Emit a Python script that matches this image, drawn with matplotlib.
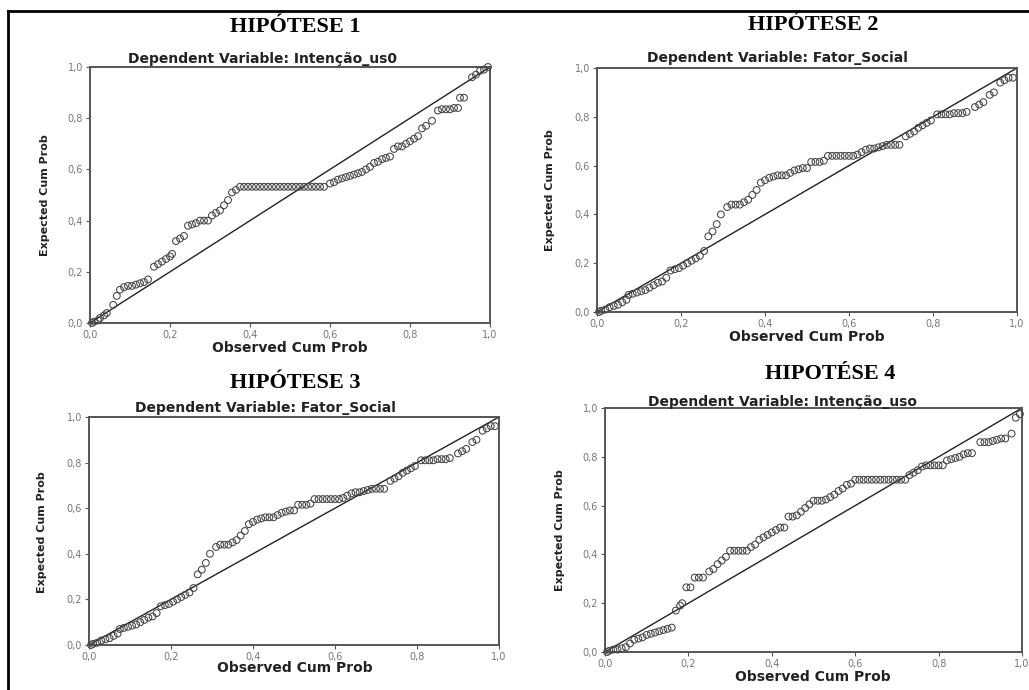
import matplotlib
matplotlib.use("Agg")
import matplotlib.pyplot as plt
from matplotlib.lines import Line2D
from matplotlib.ticker import FuncFormatter

# ---------------- data ----------------
titles = ["HIPÓTESE 1", "HIPÓTESE 2", "HIPÓTESE 3", "HIPOTÉSE 4"]
subtitles = ["Dependent Variable: Intenção_us0",
             "Dependent Variable: Fator_Social",
             "Dependent Variable: Fator_Social",
             "Dependent Variable: Intenção_uso"]
x_label = "Observed Cum Prob"
y_label = "Expected Cum Prob"
tick_values = [0.0, 0.2, 0.4, 0.6, 0.8, 1.0]

h1_obs = [0.005, 0.01, 0.02, 0.025, 0.035, 0.042, 0.058, 0.067,
          0.075, 0.085, 0.095, 0.105, 0.115, 0.125, 0.135, 0.145,
          0.16, 0.17, 0.18, 0.19, 0.20, 0.205, 0.215, 0.225, 0.235,
          0.245, 0.255, 0.265, 0.275, 0.285, 0.295, 0.305, 0.315, 0.325, 0.335, 0.345,
          0.355, 0.365,
          0.375, 0.385, 0.395, 0.405, 0.415, 0.425, 0.435, 0.445, 0.455, 0.465,
          0.475, 0.485, 0.495, 0.505, 0.515, 0.525, 0.535, 0.545, 0.555, 0.565,
          0.575, 0.585,
          0.60, 0.61, 0.62, 0.63, 0.64, 0.65, 0.66, 0.67, 0.68, 0.69, 0.70,
          0.71, 0.72, 0.73, 0.74, 0.75, 0.76, 0.77, 0.78, 0.79, 0.80, 0.81, 0.82,
          0.83, 0.84, 0.855, 0.87, 0.88, 0.89, 0.90, 0.91, 0.92, 0.925, 0.935,
          0.955, 0.965, 0.975, 0.985, 0.995]
h1_exp = [0.0, 0.005, 0.01, 0.02, 0.03, 0.039, 0.071, 0.106,
          0.13, 0.14, 0.145, 0.145, 0.15, 0.155, 0.16, 0.17,
          0.22, 0.23, 0.24, 0.25, 0.26, 0.27, 0.32, 0.33, 0.34,
          0.38, 0.385, 0.39, 0.40, 0.40, 0.40, 0.42, 0.43, 0.44, 0.46, 0.48,
          0.51, 0.52,
          0.532, 0.532, 0.532, 0.532, 0.532, 0.532, 0.532, 0.532, 0.532, 0.532,
          0.532, 0.532, 0.532, 0.532, 0.532, 0.532, 0.532, 0.532, 0.532, 0.532,
          0.532, 0.532,
          0.545, 0.55, 0.56, 0.565, 0.57, 0.575, 0.58, 0.585, 0.59, 0.60, 0.61,
          0.625, 0.63, 0.64, 0.645, 0.65, 0.68, 0.69, 0.69, 0.70, 0.71, 0.72, 0.73,
          0.76, 0.77, 0.79, 0.83, 0.835, 0.835, 0.835, 0.84, 0.84, 0.88, 0.88,
          0.96, 0.97, 0.985, 0.99, 1.0]

social_obs = [0.005, 0.01, 0.02, 0.03, 0.04, 0.05, 0.06, 0.07,
              0.075, 0.085, 0.095, 0.105, 0.115, 0.125, 0.135, 0.145, 0.155, 0.165,
              0.175, 0.185, 0.195, 0.205, 0.215, 0.225, 0.235, 0.245, 0.255,
              0.265, 0.275, 0.285, 0.295,
              0.31, 0.32, 0.33, 0.34, 0.35, 0.36, 0.37, 0.38,
              0.39, 0.40, 0.41, 0.42, 0.43, 0.44, 0.45, 0.46, 0.47, 0.48, 0.49, 0.50,
              0.51, 0.52, 0.53, 0.54,
              0.55, 0.56, 0.57, 0.58, 0.59, 0.60, 0.61, 0.62,
              0.63, 0.64, 0.65, 0.66, 0.67, 0.68, 0.69, 0.70, 0.71, 0.72,
              0.735, 0.745, 0.755, 0.765, 0.775, 0.785, 0.795,
              0.81, 0.82, 0.83, 0.84, 0.85, 0.86, 0.87, 0.88,
              0.90, 0.91, 0.92, 0.935, 0.945, 0.96, 0.97, 0.98, 0.99]
social_exp = [0.0, 0.005, 0.01, 0.02, 0.025, 0.03, 0.04, 0.05,
              0.07, 0.075, 0.08, 0.085, 0.09, 0.10, 0.11, 0.12, 0.125, 0.14,
              0.17, 0.175, 0.18, 0.19, 0.20, 0.21, 0.22, 0.23, 0.25,
              0.31, 0.33, 0.36, 0.40,
              0.43, 0.44, 0.44, 0.44, 0.45, 0.46, 0.48, 0.50,
              0.53, 0.54, 0.55, 0.555, 0.56, 0.56, 0.56, 0.57, 0.58, 0.585, 0.59, 0.59,
              0.615, 0.615, 0.615, 0.62,
              0.64, 0.64, 0.64, 0.64, 0.64, 0.64, 0.64, 0.645,
              0.655, 0.665, 0.67, 0.67, 0.675, 0.68, 0.685, 0.685, 0.685, 0.685,
              0.72, 0.73, 0.74, 0.755, 0.765, 0.775, 0.785,
              0.81, 0.81, 0.81, 0.81, 0.815, 0.815, 0.815, 0.82,
              0.84, 0.85, 0.86, 0.89, 0.90, 0.94, 0.95, 0.96, 0.96]

h4_obs = [0.005, 0.01, 0.02, 0.03, 0.04, 0.05, 0.06, 0.07, 0.08, 0.09,
          0.10, 0.11, 0.12, 0.13, 0.14, 0.15, 0.16,
          0.17, 0.18, 0.185, 0.195, 0.205, 0.215, 0.225, 0.235,
          0.25, 0.26, 0.27, 0.28, 0.29,
          0.30, 0.31, 0.32, 0.33, 0.34,
          0.35, 0.36, 0.37, 0.38, 0.39, 0.40, 0.41, 0.42, 0.43,
          0.44, 0.45, 0.46, 0.47, 0.48, 0.49,
          0.50, 0.51, 0.52, 0.53,
          0.54, 0.55, 0.56, 0.57, 0.58, 0.59,
          0.60, 0.61, 0.62, 0.63, 0.64, 0.65, 0.66, 0.67, 0.68, 0.69, 0.70, 0.71, 0.72,
          0.73, 0.74, 0.75, 0.76,
          0.77, 0.78, 0.79, 0.80, 0.81,
          0.82, 0.83, 0.84, 0.85, 0.86, 0.87, 0.88,
          0.90, 0.91, 0.92, 0.93, 0.94, 0.95, 0.96,
          0.975, 0.985, 0.995]
h4_exp = [0.0, 0.005, 0.01, 0.01, 0.015, 0.02, 0.035, 0.05, 0.055, 0.06,
          0.07, 0.075, 0.08, 0.085, 0.09, 0.095, 0.10,
          0.17, 0.19, 0.20, 0.265, 0.265, 0.305, 0.305, 0.305,
          0.33, 0.34, 0.36, 0.375, 0.39,
          0.415, 0.415, 0.415, 0.415, 0.415,
          0.43, 0.44, 0.46, 0.47, 0.48, 0.49, 0.50, 0.51, 0.51,
          0.555, 0.555, 0.56, 0.575, 0.59, 0.605,
          0.62, 0.62, 0.62, 0.625,
          0.635, 0.645, 0.66, 0.67, 0.685, 0.69,
          0.706, 0.706, 0.706, 0.706, 0.706, 0.706, 0.706, 0.706, 0.706, 0.706, 0.706, 0.706, 0.706,
          0.725, 0.735, 0.745, 0.76,
          0.765, 0.765, 0.765, 0.765, 0.765,
          0.785, 0.79, 0.795, 0.80, 0.81, 0.815, 0.815,
          0.86, 0.86, 0.86, 0.865, 0.87, 0.875, 0.875,
          0.895, 0.96, 0.975]

panel_obs = [h1_obs, social_obs, social_obs, h4_obs]
panel_exp = [h1_exp, social_exp, social_exp, h4_exp]

# ---------------- layout (figure fractions, from pixel positions) ----------------
W, H = 1029, 690
axes_px = [(90, 67, 490, 323), (597, 68, 1017, 312),
           (89, 417, 499, 645), (605, 408, 1022, 652)]
title_px = [(295, 27), (813, 25), (295, 383), (830, 374)]
sub_px = [(262, 59), (777, 58), (265, 408), (783, 402)]
xlab_px = [(290, 348), (807, 337), (295, 668), (813, 677)]
ylab_px = [(45, 195), (550, 190), (42, 532), (560, 530)]

fig = plt.figure(figsize=(W / 100, H / 100), dpi=100)
fig.patch.set_facecolor("white")

def fx(px):
    return px / W

def fy(py):
    return 1 - py / H

frame_col = "#555555"
tick_col = "#777777"
fmt = FuncFormatter(lambda v, p: f"{v:.1f}".replace(".", ","))

for i in range(4):
    l, t, r, b = axes_px[i]
    ax = fig.add_axes([fx(l), fy(b), fx(r) - fx(l), fy(t) - fy(b)])
    ax.set_xlim(0, 1)
    ax.set_ylim(0, 1)
    ax.plot([0, 1], [0, 1], color="#222222", lw=1.0, zorder=2)
    ax.scatter(panel_obs[i], panel_exp[i], s=24, facecolors="none",
               edgecolors="#444444", linewidths=0.75, zorder=3, clip_on=False)
    ax.set_xticks(tick_values)
    ax.set_yticks(tick_values)
    ax.xaxis.set_major_formatter(fmt)
    ax.yaxis.set_major_formatter(fmt)
    ax.tick_params(direction="out", length=3, width=0.8, color=frame_col,
                   labelsize=7, labelcolor=tick_col, pad=2)
    for sp in ax.spines.values():
        sp.set_color(frame_col)
        sp.set_linewidth(1.4)

    fig.text(fx(title_px[i][0]), fy(title_px[i][1]), titles[i],
             family="Liberation Serif", fontweight="bold", fontsize=16,
             ha="center", va="center")
    fig.text(fx(sub_px[i][0]), fy(sub_px[i][1]), subtitles[i],
             family="DejaVu Sans", fontweight="bold", fontsize=10,
             color="#222222", ha="center", va="center")
    fig.text(fx(xlab_px[i][0]), fy(xlab_px[i][1]), x_label,
             family="DejaVu Sans", fontweight="bold", fontsize=10,
             color="#222222", ha="center", va="center")
    fig.text(fx(ylab_px[i][0]), fy(ylab_px[i][1]), y_label,
             family="Liberation Sans Narrow", fontweight="bold", fontsize=8,
             color="#222222", ha="center", va="center", rotation=90)

# outer frame (left and top lines)
fig.add_artist(Line2D([fx(8), fx(8)], [0, fy(11)], color="black", lw=2))
fig.add_artist(Line2D([fx(8), 1], [fy(11), fy(11)], color="black", lw=2))

fig.savefig("out.png", dpi=100, facecolor="white")
